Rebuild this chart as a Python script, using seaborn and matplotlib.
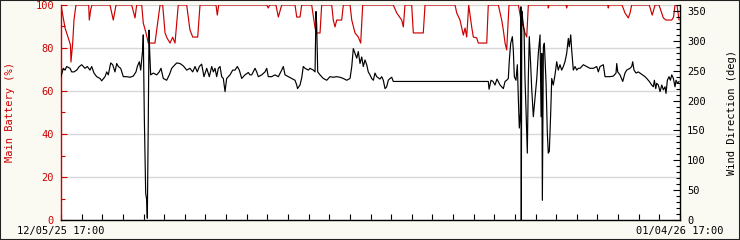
import matplotlib
matplotlib.use("Agg")
import matplotlib.pyplot as plt
from matplotlib.patches import Rectangle
from matplotlib.ticker import MultipleLocator, FixedLocator
import seaborn as sns

# ---- data (hours since 12/05/25 17:00) ----
batt_hours = [0, 4.7, 8.1, 11, 11.6, 13.6, 15.1, 17.4, 32.2, 32.9, 34.5, 36, 57, 60.8, 64,
              82.2, 86.1, 88, 93.9, 95.7, 98.9, 101.5, 109.3, 115.2, 118.3, 121, 123.3, 126.8,
              129.9, 132.6, 136.4, 146.2, 150, 153.2, 159, 161.7, 180.3, 181.8, 183.4, 239.3,
              241.1, 242.5, 250, 252.8, 256.7, 272.2, 274.2, 278, 280, 291.6, 295.5, 297.4,
              301.3, 303.2, 314.9, 316.7, 318.7, 320.7, 326.5, 328.4, 336.2, 338.2, 342, 345.8,
              348.6, 350.9, 386.5, 390.5, 396.3, 398.2, 400.1, 407.9, 409.8, 421.4, 423.4,
              458.3, 460.3, 464.1, 468, 470, 471.9, 474.2, 477.7, 479.6, 483.5, 485.4, 495.2,
              497, 508.7, 512.6, 514.5, 516.5, 518.4, 521.1, 532, 535.1, 537.8, 539.7, 541.7,
              543.6, 566.5, 566.8, 567.6, 587.5, 588.2, 589, 636, 636.6, 637.3, 652.6, 656,
              659.9, 661.9, 663.8, 684.2, 687.7, 691, 695.6, 700.6, 703.7, 710.4, 712.5, 714.2,
              716.5, 718.9]
batt_pct = [100, 89.3, 85.1, 81.4, 73.5, 82.3, 93, 100, 100, 93, 97.7, 100, 100, 93, 100,
            100, 94, 100, 100, 91.6, 87, 82.3, 82.3, 100, 100, 87, 84.7, 82.3,
            85, 82.3, 100, 100, 88.4, 85.1, 85.1, 100, 100, 95.3, 100, 100,
            98.6, 100, 100, 94.4, 100, 100, 94.4, 94.4, 100, 100, 89.3, 87,
            87, 100, 100, 93, 89.8, 93, 93, 100, 100, 93, 87, 85.1,
            82.3, 100, 100, 96.3, 93, 89.8, 100, 100, 87, 87, 100,
            100, 96.3, 93, 86, 89.3, 85.1, 100, 89.8, 85.1, 84.7, 82.3, 82.3,
            100, 100, 93, 88.4, 82.3, 79.1, 100, 100, 93, 89.8, 87, 85.1,
            100, 100, 98.6, 100, 100, 98.6, 100, 100, 98.6, 100, 100, 96.3,
            94, 96.3, 100, 100, 95.3, 100, 100, 94, 93, 93, 94.4, 100,
            100, 93]

wind_hours = [0, 2.7, 4.7, 6.6, 10.5, 12.4, 15.1, 18.3, 21.3, 24.1, 27.9, 30.6, 33.7, 35.7,
              38.4, 41.5, 45.4, 47.3, 51.2, 53.2, 55, 57.8, 60.1, 62.8, 64.8, 66.7, 69.4, 72.5,
              76.4, 80.3, 84.1, 87.2, 88.8, 91.1, 92.7, 95, 95.7, 96.9, 98.5, 99.7, 100.4,
              100.8, 101.5, 102.4, 103.2, 104.3, 107.4, 111.3, 114.3, 116.3, 119, 122.9, 126,
              128.8, 130.6, 134.6, 138.4, 142.3, 146.2, 150, 153.2, 155.9, 158.5, 160.9, 163.6,
              166.3, 169.5, 172.5, 175.3, 177.2, 179.1, 181.1, 183, 185, 186.9, 188.8, 190.8,
              192.7, 196.6, 199.7, 202.4, 205.1, 207.4, 210.2, 214, 217.9, 219.8,
              221.8, 225.7, 227.6, 229.5, 233.5, 237.3, 239.3, 241.1, 245.1, 248.9, 252.8,
              256.7, 258.6, 260.6, 264.4, 268.4, 272.2, 274.2, 275.1, 278, 280, 281.8, 283.8,
              287.7, 289.6, 293.5, 295.5, 296.6, 297.4, 298.6, 301.3, 305.1, 309.1, 312.9,
              316.7, 320.7, 324.5, 328.4, 332.3, 336.2, 338.2, 340, 342, 344, 345.8, 347.8,
              349.8, 351.6, 353.6, 355.6, 357.4, 359.4, 361.4, 363.3, 365.2, 367.2, 371, 373,
              374.9, 376.9, 378.8, 380.7, 382.7, 384.7, 386.5, 497, 497.9, 500.2, 502.5,
              504.8, 507.1, 510.7, 514.5, 516.5, 518.4, 520.3, 521.5, 523.1, 525, 526.1, 527.3,
              529.2, 530.8, 531.9, 533.1, 534.3, 534.9, 535.4, 536, 537.1, 538.6, 539.7, 540.9,
              542.4, 543.6, 544.7, 546.4, 547.5, 549.4, 551.4, 553.4, 555.2, 557.2, 558.4,
              559.2, 559.9, 561.1, 562.2, 563, 564.2, 565.7, 566.8, 568, 569.6, 570.8, 572.6,
              574.6, 576.6, 578.4, 580.4, 582.4, 584.3, 586.2, 588.2, 590.1, 591.2, 592.9, 594,
              595.9, 597.9, 599.9, 601.7, 603.7, 605.7, 607.5, 611.5, 615.3, 619.2, 623.1, 625,
              627, 630.8, 632.8, 634.8, 638.6, 642.5, 645.6, 646.4, 647.6, 650.2, 653.4, 656,
              658, 661.9, 663.8, 665, 666.5, 668.9, 671.5, 673.5, 676.6, 679.3, 681.3, 684.3,
              687.1, 689, 690.2, 691.8, 692.9, 694.8, 696.8, 698.8, 700.6, 702.6, 703.7, 705.3,
              707.2, 708.8, 710.4, 712.3, 714.2, 715.4, 717.1, 718.9]
wind_deg = [240, 254, 251, 257, 254, 248, 248, 251, 257, 260, 254, 257, 251, 257,
            246, 240, 237, 233, 240, 248, 243, 263, 260, 248, 262, 257, 254, 240,
            240, 239, 241, 248, 257, 265, 251, 285, 310, 173, 45, 33, 3,
            55, 162, 318, 280, 243, 246, 243, 248, 254, 237, 234, 243,
            254, 257, 263, 262, 258, 251, 254, 248, 257, 248, 257, 261,
            240, 254, 240, 257, 248, 254, 240, 254, 257, 240, 237, 215,
            237, 243, 251, 251, 257, 251, 237, 243, 247, 243,
            243, 254, 248, 240, 243, 248, 254, 240, 240, 243, 240,
            251, 257, 243, 240, 237, 234, 226, 220, 226, 238, 257, 254,
            251, 254, 251, 248, 349, 326, 248, 243, 237, 234, 240,
            239, 240, 239, 237, 234, 237, 257, 287, 279, 271, 282, 262,
            273, 257, 268, 260, 248, 243, 237, 234, 246, 240, 236, 240,
            234, 220, 223, 234, 237, 239, 232, 232, 219, 234, 232,
            226, 236, 226, 220, 232, 234, 237, 268, 296, 307, 285, 240,
            234, 260, 206, 154, 179, 357, 0, 350, 335, 318, 237, 184,
            112, 240, 307, 257, 220, 173, 206, 237, 279, 310, 173,
            279, 33, 290, 296, 268, 230, 145, 112, 115, 179, 237, 226,
            243, 265, 251, 260, 251, 257, 265, 279, 304, 290, 310, 285,
            251, 257, 251, 254, 254, 257, 260, 257, 254, 254, 257, 248,
            257, 260, 240, 240, 240, 241, 246, 262, 248, 243, 232, 246,
            251, 254, 257, 265, 251, 246, 248, 246, 243, 240, 237, 232,
            226, 223, 234, 220, 229, 226, 215, 226, 218, 223, 212, 234,
            240, 234, 243, 237, 223, 234, 229, 232]

x_tick_pos = [0, 720]
x_tick_labels = ["12/05/25 17:00", "01/04/26 17:00"]

RED = "#cc0000"
FS = 7.5

sns.set_theme(style="white")
plt.rcParams["font.family"] = ["DejaVu Sans Mono", "DejaVu Sans"]

fig = plt.figure(figsize=(7.4, 2.4), dpi=100, facecolor="#fafaf3")
ax1 = fig.add_axes([61 / 740, 20 / 240, 619 / 740, 215 / 240])
ax1.set_facecolor("white")
ax2 = ax1.twinx()

ax1.set_xlim(0, 720)
ax1.set_ylim(0, 100)
ax2.set_ylim(0, 360)

ax1.yaxis.grid(True, color="#d8d8d8", lw=1.0)
ax1.xaxis.grid(False)
ax1.set_axisbelow(True)

sns.lineplot(x=batt_hours, y=batt_pct, ax=ax1, color=RED, lw=0.85,
             estimator=None, sort=False)
sns.lineplot(x=wind_hours, y=wind_deg, ax=ax2, color="black", lw=0.85,
             estimator=None, sort=False)

# spines
for s in ["top", "right"]:
    ax1.spines[s].set_visible(False)
for s in ["top", "left", "bottom"]:
    ax2.spines[s].set_visible(False)
ax1.spines["left"].set_color(RED)
ax1.spines["bottom"].set_color("black")
ax2.spines["right"].set_color("black")
for sp in [ax1.spines["left"], ax1.spines["bottom"], ax2.spines["right"]]:
    sp.set_linewidth(1.0)

# x ticks
ax1.xaxis.set_major_locator(FixedLocator(x_tick_pos))
ax1.set_xticklabels(x_tick_labels)
ax1.xaxis.set_minor_locator(MultipleLocator(24))
ax1.tick_params(axis="x", which="both", direction="in", color="black",
                length=4, width=0.8, labelsize=FS, labelcolor="black", pad=4,
                bottom=True)

# left y ticks
ax1.yaxis.set_major_locator(MultipleLocator(20))
ax1.yaxis.set_minor_locator(MultipleLocator(10))
ax1.tick_params(axis="y", which="major", direction="in", color=RED, length=4,
                width=0.8, labelsize=FS, labelcolor=RED, pad=5, left=True)
ax1.tick_params(axis="y", which="minor", direction="in", color=RED, length=3,
                width=0.8, left=True)

# right y ticks
ax2.yaxis.set_major_locator(MultipleLocator(50))
ax2.yaxis.set_minor_locator(MultipleLocator(10))
ax2.tick_params(axis="y", which="major", direction="in", color="black", length=5,
                width=0.8, labelsize=FS, labelcolor="black", pad=5, right=True)
ax2.tick_params(axis="y", which="minor", direction="in", color="black", length=3,
                width=0.8, right=True)

ax1.set_xlabel("")
ax1.set_ylabel("Main Battery (%)", color=RED, fontsize=FS)
ax1.yaxis.set_label_coords(-0.074, 0.5)
ax2.set_ylabel("Wind Direction (deg)", color="black", fontsize=FS)
ax2.yaxis.set_label_coords(1.076, 0.5)

fig.patches.append(Rectangle((0, 0), 1, 1, transform=fig.transFigure, fill=False,
                             edgecolor="#222222", lw=1.5, zorder=10))

fig.savefig("out.png", dpi=100, facecolor=fig.get_facecolor())
